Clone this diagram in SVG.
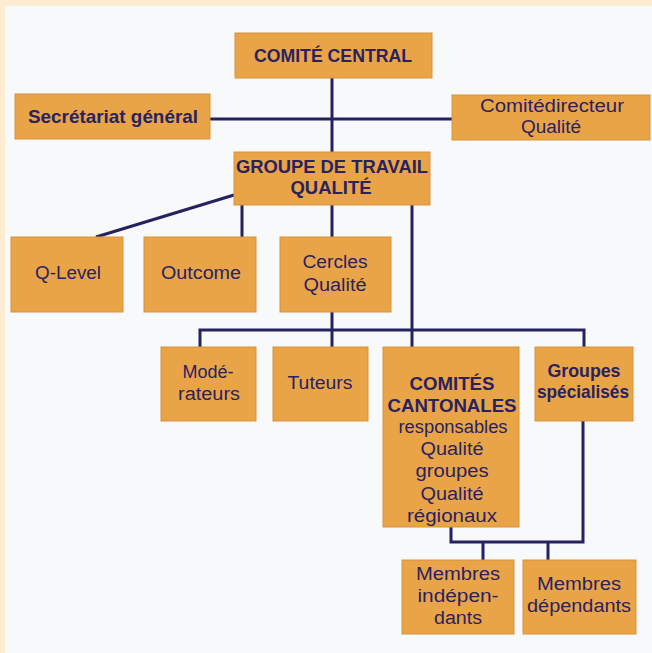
<svg xmlns="http://www.w3.org/2000/svg" width="652" height="653" viewBox="0 0 652 653">
<style>
.box{fill:#e9a448;stroke:#d8923c;stroke-width:1}
.t{font-family:"Liberation Sans",Arial,sans-serif;font-size:18px;fill:#2a2260;text-anchor:middle}
.b{font-weight:bold;font-size:18.5px}
.ln{fill:none;stroke:#25235f;stroke-width:3;stroke-linejoin:miter}
</style>
<rect x="0" y="0" width="652" height="653" fill="#f8f9fa"/>
<rect x="0" y="0" width="652" height="6" fill="#fdebd2"/>
<rect x="0" y="0" width="5" height="653" fill="#fdebd2"/>
<g id="connectors">
<path class="ln" d="M332 78V152"/>
<path class="ln" d="M210 119H452"/>
<path class="ln" d="M234 195L96 237"/>
<path class="ln" d="M242 205V237"/>
<path class="ln" d="M332 205V237"/>
<path class="ln" d="M412 205V347"/>
<path class="ln" d="M332 312V347"/>
<path class="ln" d="M200 347V330H584V347"/>
<path class="ln" d="M451 527V542H583V421"/>
<path class="ln" d="M483 542V560"/>
<path class="ln" d="M548 542V560"/>
</g>
<g id="comite-central"><rect class="box" x="235" y="33" width="197" height="45"/><text class="t b" x="333" y="62" textLength="158" lengthAdjust="spacingAndGlyphs">COMITÉ CENTRAL</text></g>
<g id="secretariat"><rect class="box" x="15" y="94" width="195" height="45"/><text class="t b" x="113" y="123" textLength="170" lengthAdjust="spacingAndGlyphs">Secrétariat général</text></g>
<g id="comite-directeur"><rect class="box" x="452" y="95" width="198" height="45"/><text class="t" x="552" y="112" textLength="144" lengthAdjust="spacingAndGlyphs">Comitédirecteur</text><text class="t" x="551" y="133" textLength="60" lengthAdjust="spacingAndGlyphs">Qualité</text></g>
<g id="groupe-travail"><rect class="box" x="234" y="152" width="196" height="53"/><text class="t b" x="332" y="173" textLength="192" lengthAdjust="spacingAndGlyphs">GROUPE DE TRAVAIL</text><text class="t b" x="331" y="194" textLength="81" lengthAdjust="spacingAndGlyphs">QUALITÉ</text></g>
<g id="q-level"><rect class="box" x="11" y="237" width="112" height="75"/><text class="t" x="68" y="279" textLength="66" lengthAdjust="spacingAndGlyphs">Q-Level</text></g>
<g id="outcome"><rect class="box" x="144" y="237" width="112" height="75"/><text class="t" x="201" y="279" textLength="80" lengthAdjust="spacingAndGlyphs">Outcome</text></g>
<g id="cercles"><rect class="box" x="280" y="237" width="111" height="75"/><text class="t" x="335" y="268" textLength="65" lengthAdjust="spacingAndGlyphs">Cercles</text><text class="t" x="335" y="291" textLength="63" lengthAdjust="spacingAndGlyphs">Qualité</text></g>
<g id="moderateurs"><rect class="box" x="161" y="347" width="95" height="74"/><text class="t" x="208" y="378" textLength="51" lengthAdjust="spacingAndGlyphs">Modé-</text><text class="t" x="209" y="400" textLength="62" lengthAdjust="spacingAndGlyphs">rateurs</text></g>
<g id="tuteurs"><rect class="box" x="273" y="347" width="95" height="74"/><text class="t" x="320" y="389" textLength="65" lengthAdjust="spacingAndGlyphs">Tuteurs</text></g>
<g id="comites-cantonales"><rect class="box" x="383" y="347" width="136" height="180"/><text class="t b" x="452" y="390" textLength="85" lengthAdjust="spacingAndGlyphs">COMITÉS</text><text class="t b" x="452" y="412" textLength="129" lengthAdjust="spacingAndGlyphs">CANTONALES</text><text class="t" x="453" y="433" textLength="109" lengthAdjust="spacingAndGlyphs">responsables</text><text class="t" x="452" y="455" textLength="63" lengthAdjust="spacingAndGlyphs">Qualité</text><text class="t" x="452" y="477" textLength="73" lengthAdjust="spacingAndGlyphs">groupes</text><text class="t" x="452" y="500" textLength="63" lengthAdjust="spacingAndGlyphs">Qualité</text><text class="t" x="452" y="522" textLength="90" lengthAdjust="spacingAndGlyphs">régionaux</text></g>
<g id="groupes-specialises"><rect class="box" x="535" y="347" width="98" height="74"/><text class="t b" x="584" y="377" textLength="73" lengthAdjust="spacingAndGlyphs">Groupes</text><text class="t b" x="583" y="398" textLength="92" lengthAdjust="spacingAndGlyphs">spécialisés</text></g>
<g id="membres-independants"><rect class="box" x="402" y="560" width="112" height="74"/><text class="t" x="458" y="580" textLength="84" lengthAdjust="spacingAndGlyphs">Membres</text><text class="t" x="458" y="602" textLength="81" lengthAdjust="spacingAndGlyphs">indépen-</text><text class="t" x="458" y="624" textLength="48" lengthAdjust="spacingAndGlyphs">dants</text></g>
<g id="membres-dependants"><rect class="box" x="523" y="560" width="113" height="74"/><text class="t" x="579" y="590" textLength="84" lengthAdjust="spacingAndGlyphs">Membres</text><text class="t" x="579" y="612" textLength="104" lengthAdjust="spacingAndGlyphs">dépendants</text></g>
</svg>
